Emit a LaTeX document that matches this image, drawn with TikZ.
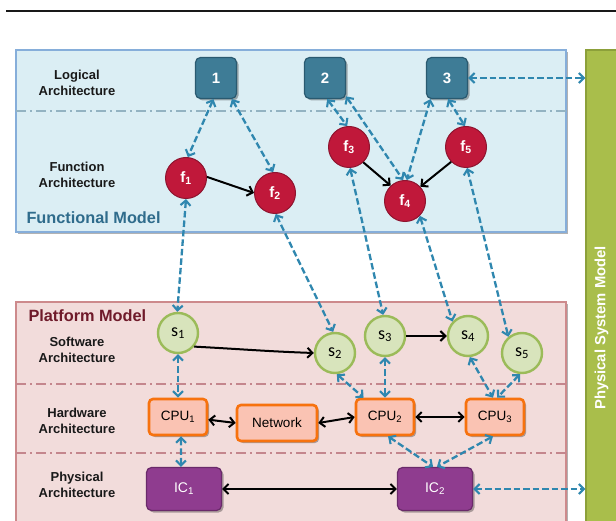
\documentclass[tikz,border=0pt]{standalone}
\usepackage{fontspec}
\setmainfont{Liberation Sans}
\newfontfamily\carl{Carlito}
\usetikzlibrary{arrows.meta,shadows}
\definecolor{funcfill}{HTML}{DBEEF4}
\definecolor{funcdraw}{HTML}{86AEDA}
\definecolor{platfill}{HTML}{F2DCDB}
\definecolor{platdraw}{HTML}{CD8A8C}
\definecolor{fdashc}{HTML}{93B3C2}
\definecolor{pdashc}{HTML}{C4868D}
\definecolor{fmtext}{HTML}{2F6C8C}
\definecolor{pmtext}{HTML}{6F1A2A}
\definecolor{logfill}{HTML}{3E7C96}
\definecolor{logdraw}{HTML}{2A5A70}
\definecolor{ffill}{HTML}{C0183A}
\definecolor{fdraw}{HTML}{8E1530}
\definecolor{sfill}{HTML}{D8E4BC}
\definecolor{sdraw}{HTML}{9BBB59}
\definecolor{cpufill}{HTML}{FAC3B3}
\definecolor{cpudraw}{HTML}{F7720E}
\definecolor{icfill}{HTML}{8F3C8F}
\definecolor{icdraw}{HTML}{6A2A6A}
\definecolor{barfill}{HTML}{A9BE4B}
\definecolor{bardraw}{HTML}{8CA03A}
\definecolor{dblue}{HTML}{2F87AF}
\begin{document}
\begin{tikzpicture}[x=1pt,y=-1pt,
  shadowed/.style={drop shadow={shadow xshift=2pt,shadow yshift=-2pt,opacity=0.3,fill=black}},
  lbl/.style={align=center,font=\fontsize{13}{16}\selectfont\bfseries,text=black!90},
  logic/.style={rounded corners=5pt,fill=logfill,draw=logdraw,line width=1.2pt,minimum size=41pt,inner sep=0pt,text=white,font=\fontsize{15}{18}\selectfont\bfseries,shadowed},
  fcirc/.style={circle,fill=ffill,draw=fdraw,line width=1pt,minimum size=41pt,inner sep=0pt,text=white,font=\fontsize{15}{18}\selectfont\bfseries},
  scirc/.style={circle,fill=sfill,draw=sdraw,line width=2.4pt,minimum size=40pt,inner sep=0pt,text=black,font=\carl\fontsize{18}{20}\selectfont},
  cpu/.style={rounded corners=4pt,fill=cpufill,draw=cpudraw,line width=2.6pt,minimum width=58pt,minimum height=36pt,inner sep=0pt,font=\fontsize{13.5}{16}\selectfont,shadowed},
  icbox/.style={rounded corners=5pt,fill=icfill,draw=icdraw,line width=1.2pt,minimum width=75pt,minimum height=43pt,inner sep=0pt,text=white,font=\fontsize{14}{16}\selectfont,shadowed},
  tipb/.style={},
  bidash/.style={draw=dblue,line width=2.3pt,dash pattern=on 6.5pt off 3pt,{Straight Barb[length=5pt,width=10pt,line width=2.1pt]}-{Straight Barb[length=5pt,width=10pt,line width=2.1pt]}},
  blk/.style={draw=black,line width=2pt,-{Straight Barb[length=5pt,width=10pt,line width=2pt]}},
  biblk/.style={draw=black,line width=2pt,{Straight Barb[length=5pt,width=10pt,line width=2pt]}-{Straight Barb[length=5pt,width=10pt,line width=2pt]}},
  fdashline/.style={draw=fdashc,line width=1.4pt,dash pattern=on 10pt off 4pt on 2pt off 4pt},
  pdashline/.style={draw=pdashc,line width=1.4pt,dash pattern=on 10pt off 4pt on 2pt off 4pt}
]
\clip (0,0) rectangle (616,521);
\fill[white] (0,0) rectangle (616,521);
% top rule
\draw[line width=2.2pt,black!90] (6,11) -- (620,11);
% model containers
\filldraw[fill=funcfill,draw=funcdraw,line width=1.3pt,shadowed] (16,50) rectangle (566,232);
\filldraw[fill=platfill,draw=platdraw,line width=1.3pt,shadowed] (16,302) rectangle (566,540);
\draw[fdashline] (16,111) -- (566,111);
\draw[pdashline] (16,384) -- (566,384);
\draw[pdashline] (16,453) -- (566,453);
% physical system model bar
\node[fill=barfill,draw=bardraw,line width=1.2pt,minimum width=31pt,minimum height=556pt,inner sep=0pt] (bar) at (601.5,328) {};
\node[rotate=90,text=white,font=\fontsize{14.8}{17}\selectfont\bfseries] at (bar.center) {Physical System Model};
% labels
\node[lbl] at (77,83) {Logical\\Architecture};
\node[lbl] at (77,175) {Function\\Architecture};
\node[lbl] at (77,350) {Software\\Architecture};
\node[lbl] at (77,421) {Hardware\\Architecture};
\node[lbl] at (77,485) {Physical\\Architecture};
\node[anchor=west,text=fmtext,font=\fontsize{16.3}{19}\selectfont\bfseries] at (23,218) {Functional Model};
\node[anchor=west,text=pmtext,font=\fontsize{16.3}{19}\selectfont\bfseries] at (25,316) {Platform Model};
% logical nodes
\node[logic] (l1) at (216,78) {1};
\node[logic] (l2) at (325,78) {2};
\node[logic] (l3) at (447,78) {3};
% function nodes
\node[fcirc] (f1) at (186,178) {f\textsubscript{1}};
\node[fcirc] (f2) at (275,193) {f\textsubscript{2}};
\node[fcirc] (f3) at (349,147) {f\textsubscript{3}};
\node[fcirc] (f4) at (405,201) {f\textsubscript{4}};
\node[fcirc] (f5) at (466,147) {f\textsubscript{5}};
% software nodes
\node[scirc] (s1) at (178,333) {s\textsubscript{1}};
\node[scirc] (s2) at (335,353) {s\textsubscript{2}};
\node[scirc] (s3) at (385,336) {s\textsubscript{3}};
\node[scirc] (s4) at (468,336) {s\textsubscript{4}};
\node[scirc] (s5) at (522,353) {s\textsubscript{5}};
% hardware nodes
\node[cpu] (c1) at (178,417) {CPU\textsubscript{1}};
\node[cpu,minimum width=80pt] (net) at (277,423) {Network};
\node[cpu] (c2) at (385,417) {CPU\textsubscript{2}};
\node[cpu] (c3) at (495,417) {CPU\textsubscript{3}};
% physical nodes
\node[icbox] (ic1) at (184,489) {IC\textsubscript{1}};
\node[icbox] (ic2) at (435,489) {IC\textsubscript{2}};
% logical <-> function
\draw[bidash] (l1.-97) -- (f1.85);
\draw[bidash] (l1.-53) -- (f2.95);
\draw[bidash] (l2.-84) -- (f3.95);
\draw[bidash] (l2.-41) -- (f4.95);
\draw[bidash] (l3.-128) -- (f4.85);
\draw[bidash] (l3.-87) -- (f5.93);
\draw[bidash] (l3.east) -- (l3.east -| bar.west);
% function flow
\draw[blk] (f1.3) -- (f2.180);
\draw[blk] (f3.-47) -- (f4.133);
\draw[blk] (f5.-135) -- (f4.43);
% function <-> software
\draw[bidash] (f1.-90) -- (s1.92);
\draw[bidash] (f2.-88) -- (s2.95);
\draw[bidash] (f3.-87) -- (s3.95);
\draw[bidash] (f4.-45) -- (s4.137);
\draw[bidash] (f5.-87) -- (s5.130);
% software flow
\draw[blk] (s1.-40) to[out=-3,in=178] (s2.west);
\draw[blk] (s3.east) -- (s4.west);
% software <-> hardware
\draw[bidash] (s1.south) -- (c1.north);
\draw[bidash] (s2.-85) -- (c2.138);
\draw[bidash] (s3.south) -- (c2.north);
\draw[bidash] (s4.-85) -- (c3.96);
\draw[bidash] (s5.-95) -- (c3.84);
% hardware links
\draw[biblk] (c1.-5) -- (net.west);
\draw[biblk] (net.east) -- (c2.west);
\draw[biblk] (c2.east) -- (c3.west);
% hardware <-> physical
\draw[bidash] (c1.-81) -- (ic1.98);
\draw[bidash] (c2.-81) -- (ic2.95);
\draw[bidash] (c3.-96) -- (ic2.85);
% physical links
\draw[biblk] (ic1.east) -- (ic2.west);
\draw[bidash] (ic2.east) -- (ic2.east -| bar.west);
\end{tikzpicture}
\end{document}
